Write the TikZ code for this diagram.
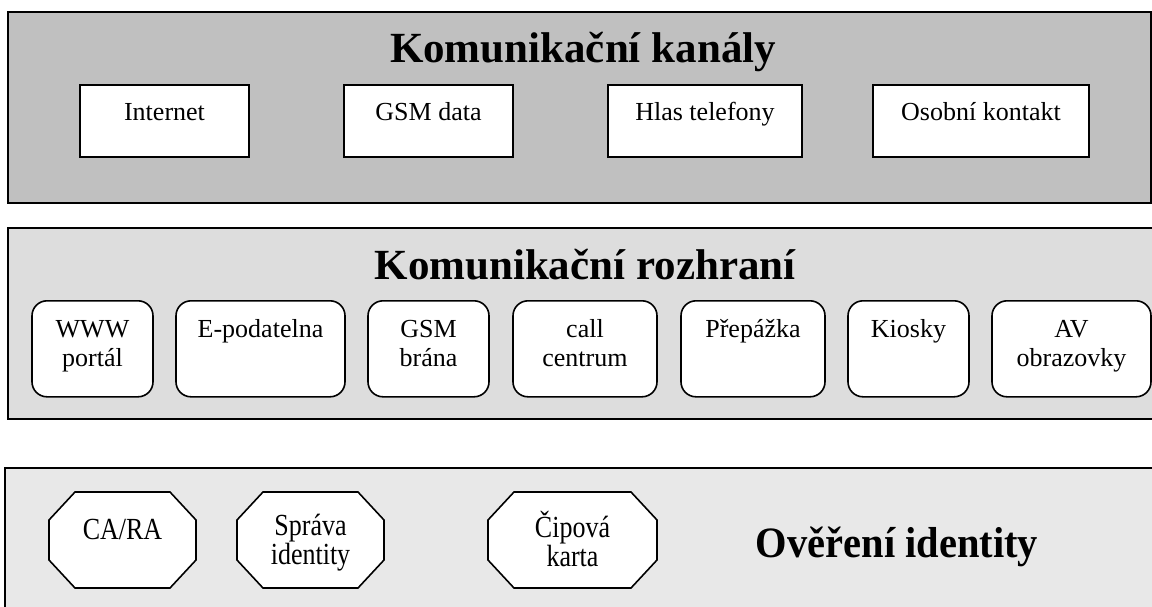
\documentclass[tikz,border=0pt]{standalone}
\usepackage{fontspec}
\setmainfont{Liberation Serif}
\usetikzlibrary{calc}
\newcommand\octshape[4]{%
  \draw[octbox] (#1+26,#2) -- (#3-26,#2) -- (#3,#2+28) -- (#3,#4-28) -- (#3-26,#4) -- (#1+26,#4) -- (#1,#4-28) -- (#1,#2+28) -- cycle;}
\newcommand\twol[3]{\parbox[t]{#1pt}{\centering #2\\#3}}
\newcommand\stretchy[1]{\scalebox{1}[1.18]{#1}}
\begin{document}
\begin{tikzpicture}[x=1pt,y=-1pt,
  body/.style={font=\fontsize{26}{29}\selectfont},
  title/.style={font=\fontsize{43}{50}\selectfont\bfseries, inner sep=0pt, anchor=base},
  layer/.style={draw=black, line width=1.8pt},
  chanbox/.style={body, draw=black, fill=white, line width=1.8pt, inner sep=0pt,
     text height=36pt, text depth=36pt, anchor=north},
  ifbox/.style={body, draw=black, fill=white, line width=1.6pt, rounded corners=15pt, inner sep=0pt,
     text height=37pt, text depth=59pt, anchor=north},
  octbox/.style={draw=black, fill=white, line width=1.6pt},
  octtext/.style={body, inner sep=0pt, anchor=base},
]
\useasboundingbox (0,0) rectangle (1152,606);
\begin{scope}
\clip (0,0) rectangle (1152,606);
% layers
\draw[layer, fill={rgb,255:red,192;green,192;blue,192}] (8,12) rectangle (1151,203);
\draw[layer, fill={rgb,255:red,221;green,221;blue,221}] (8,228) rectangle (1170,419);
\draw[layer, fill={rgb,255:red,232;green,232;blue,232}] (5,468) rectangle (1170,625);

% top layer
\node[title] (t1) at (583,62) {Komunikační kanály};
\node[chanbox, minimum width=169pt] (internet) at (164.5,84) {Internet};
\node[chanbox, minimum width=169pt] (gsmdata) at (428.5,84) {GSM data};
\node[chanbox, minimum width=194pt] (hlas) at (705,84) {Hlas telefony};
\node[chanbox, minimum width=216pt] (osobni) at (981,84) {Osobní kontakt};

% middle layer
\node[title] (t2) at (585,279) {Komunikační rozhraní};
\node[ifbox, minimum width=121pt] (www) at (92.5,300) {\twol{121}{WWW}{portál}};
\node[ifbox, minimum width=169pt] (epod) at (260.5,300) {\parbox[t]{169pt}{\centering E-podatelna}};
\node[ifbox, minimum width=121pt] (gsmbrana) at (428.5,300) {\twol{121}{GSM}{brána}};
\node[ifbox, minimum width=144pt] (call) at (585,300) {\twol{144}{call}{centrum}};
\node[ifbox, minimum width=144pt] (prep) at (753,300) {\parbox[t]{144pt}{\centering Přepážka}};
\node[ifbox, minimum width=121pt] (kiosky) at (908.5,300) {\parbox[t]{121pt}{\centering Kiosky}};
\node[ifbox, minimum width=159pt] (av) at (1071.5,300) {\twol{159}{AV}{obrazovky}};

% bottom layer
\octshape{49}{492}{196}{588}
\octshape{237}{492}{384}{588}
\octshape{488}{492}{657}{588}
\node[octtext] (cara) at (122.5,539) {\stretchy{CA/RA}};
\node[octtext] (sprava) at (310.5,535) {\stretchy{\fontsize{26}{23}\selectfont\twol{147}{Správa}{identity}}};
\node[octtext] (cip) at (572.5,537) {\stretchy{\fontsize{26}{23}\selectfont\twol{169}{Čipová}{karta}}};
\node[title, font=\fontsize{40.5}{48}\selectfont\bfseries] (t3) at (897,557) {\scalebox{1}[1.07]{Ověření identity}};
\end{scope}
\end{tikzpicture}
\end{document}
